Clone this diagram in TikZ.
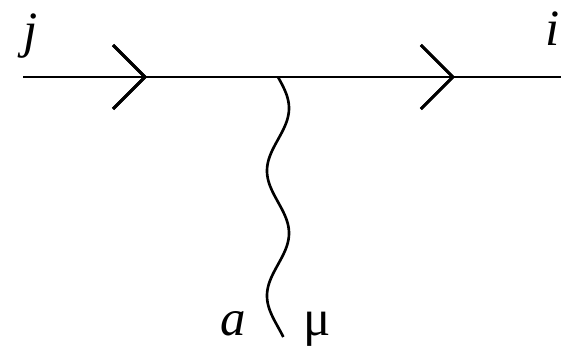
\documentclass[tikz,border=0pt]{standalone}
\usepackage{fontspec}
\setmainfont{Liberation Serif}
\usepackage{tikz}
\usetikzlibrary{arrows.meta, positioning, calc, decorations.markings}

\tikzset{
    fermion/.style={line width=1.7pt},
    chevron/.style={postaction={decorate},
        decoration={markings, mark=at position #1 with {\draw[line width=1.7pt] (-32,32) -- (0,0) -- (-32,-32);}}},
    gluon/.style={line width=1.5pt},
    lbl/.style={font=\fontsize{29}{31}\selectfont, inner sep=0pt, anchor=base}
}

\begin{document}
\begin{tikzpicture}[x=0.02cm, y=-0.02cm]
    \useasboundingbox (0,0) rectangle (561,345);

    % Quark line
    \coordinate (in) at (23,77);
    \coordinate (out) at (561,77);
    \coordinate (vtx) at (278,77);
    \draw[fermion, chevron=0.2268, chevron=0.799] (in) -- (out);

    % Gluon
    \begin{scope}[shift={(vtx)}]
        \draw[gluon] plot[domain=0:260, samples=150, smooth] ({11*sin(2.88*\x)}, \x);
        \coordinate (bot) at (0,260);
    \end{scope}

    % Labels
    \node[lbl] (j) at (31,47) {\textit{j}};
    \node[lbl] (i) at (553,45) {\textit{i}};
    \node[lbl] (a) at (233,335) {\textit{a}};
    \node[lbl] (mu) at (317,335) {μ};
\end{tikzpicture}
\end{document}
